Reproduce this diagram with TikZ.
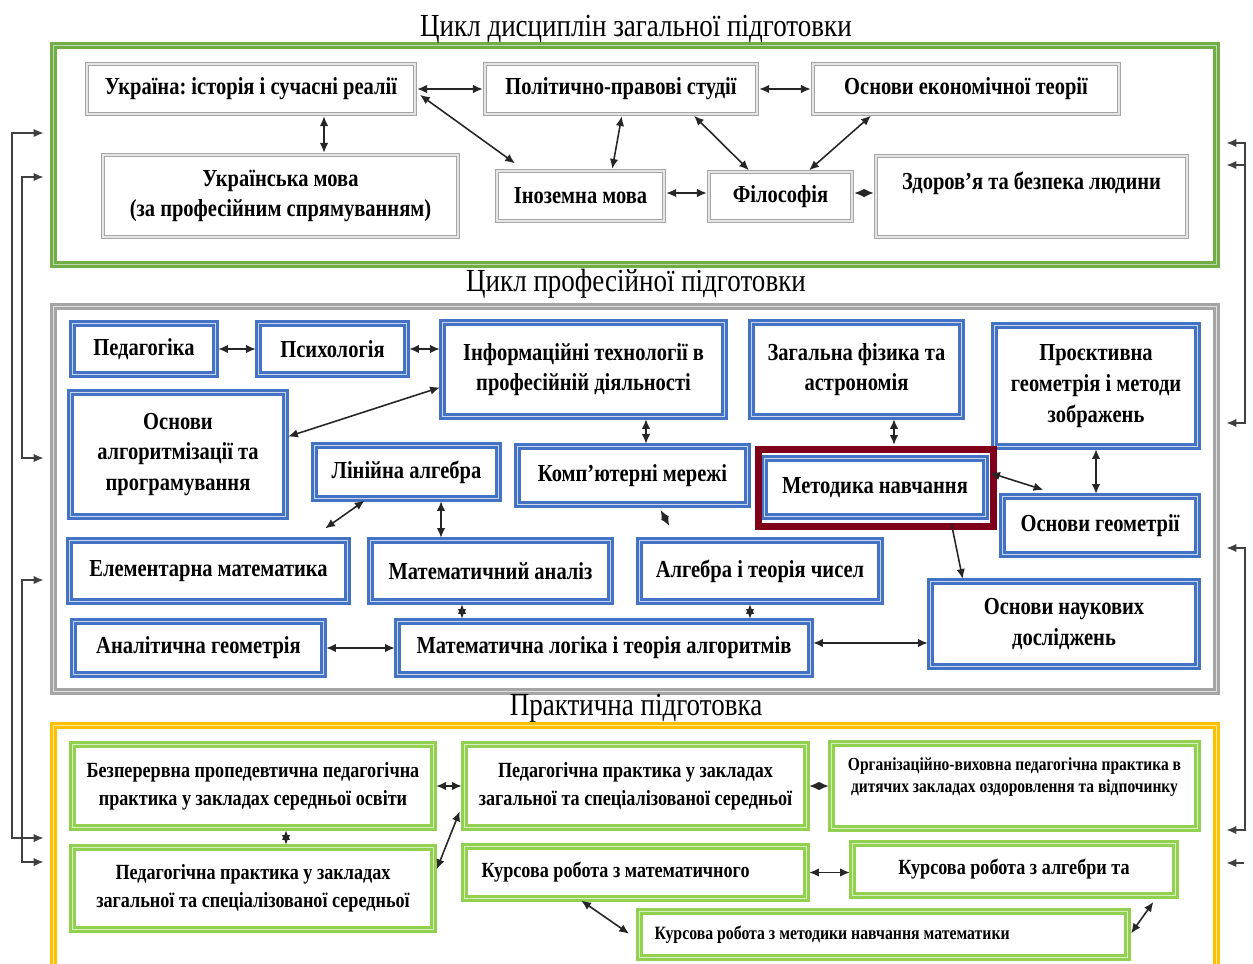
\documentclass[tikz,border=0pt]{standalone}
\usepackage{fontspec}
\setmainfont{Liberation Serif}[FakeStretch=0.84]
\frenchspacing
\usetikzlibrary{arrows.meta}
\usetikzlibrary{calc}
\definecolor{frgreen}{HTML}{70AD47}
\definecolor{frgrey}{HTML}{A5A5A5}
\definecolor{fryellow}{HTML}{FFC000}
\definecolor{bxgrey}{HTML}{A6A6A6}
\definecolor{bxblue}{HTML}{4472C4}
\definecolor{bxlime}{HTML}{92D050}
\definecolor{bxred}{HTML}{7F0019}
\tikzset{
  sz/.style n args={2}{minimum width=#1*0.02cm, minimum height=#2*0.02cm},
  discbox/.style={fill=white, inner sep=0pt, align=center,
    font=\fontsize{13.9}{17.5}\selectfont\bfseries},
  greybox/.style={discbox, draw=bxgrey, double=bxgrey!30, line width=0.9pt, double distance=0.6pt},
  bluebox/.style={discbox, draw=bxblue, double=bxblue!30, line width=1.4pt, double distance=0.9pt},
  limebox/.style={discbox, draw=bxlime, double=bxlime!35, line width=1.4pt, double distance=0.9pt,
    font=\fontsize{12.3}{16}\selectfont\bfseries},
  cycleframe/.style={inner sep=0pt, line width=1.4pt, double distance=0.9pt},
  redframe/.style={draw=bxred, line width=3.6pt, inner sep=0pt},
  cycletitle/.style={font=\fontsize{18.3}{20}\selectfont},
  con/.style={<->, line width=0.9pt, draw=black!85, shorten <=0.8pt, shorten >=0.8pt},
  rail/.style={<->, line width=0.8pt, draw=black!75, shorten <=5pt, shorten >=5pt}
}

\begin{document}
\begin{tikzpicture}[x=0.02cm, y=-0.02cm, >={Latex[length=5.6pt,width=4.8pt]}]
  \clip (0,0) rectangle (1253,963);

  % Three cycles
  \node[cycleframe, draw=frgreen, double=frgreen!45, sz={1163}{219}] (gen) at (635,155) {};
  \node[cycleframe, draw=frgrey, double=frgrey!35, sz={1163}{385}] (prof) at (635,499) {};
  \node[cycleframe, draw=fryellow, double=fryellow!35, sz={1163}{265}] (prac) at (635,858) {};
  \node[cycletitle] (t1) at (636,29) {Цикл дисциплін загальної підготовки};
  \node[cycletitle] (t2) at (636,284) {Цикл професійної підготовки};
  \node[cycletitle] (t3) at (636,708) {Практична підготовка};

  % General training
  \node[greybox, sz={328}{50}] (ukr) at (251,89) {Україна: історія і сучасні реалії};
  \node[greybox, sz={272}{50}] (polit) at (621,89) {Політично-правові студії};
  \node[greybox, sz={306}{50}] (econ) at (966,89) {Основи економічної теорії};
  \node[greybox, sz={355}{82}] (mova) at (280.5,196) {Українська мова\\(за професійним спрямуванням)};
  \node[greybox, sz={167}{50}] (inoz) at (580.5,196) {Іноземна мова};
  \node[greybox, sz={143}{49}] (filos) at (780.5,196.5) {Філософія};
  \node[greybox, sz={311}{81}] (zdorov) at (1031.5,196.5) {Здоров’я та безпека людини\\~};

  \draw[con] (ukr.east) -- (polit.west);
  \draw[con] (polit.east) -- (econ.west);
  \draw[con] ($(ukr.south)+(73,0)$) -- ($(mova.north)+(43.5,0)$);
  \draw[con] ($(ukr.east)+(3,5)$) -- ($(inoz.north west)+(20,-6)$);
  \draw[con] ($(polit.south)+(1,0)$) -- ($(inoz.north)+(31.5,0)$);
  \draw[con] ($(polit.south)+(72,0)$) -- ($(filos.north)+(-30.5,0)$);
  \draw[con] ($(econ.south)+(-94,0)$) -- ($(filos.north)+(27.5,0)$);
  \draw[con] ($(inoz.east)+(0,-3)$) -- ($(filos.west)+(0,-3.5)$);
  \draw[con] ($(filos.east)+(0,-3.5)$) -- ($(zdorov.west)+(0,-3.5)$);

  % Professional training
  \node[bluebox, sz={143}{51}] (ped) at (144,349) {Педагогіка};
  \node[bluebox, sz={148}{51}] (psych) at (332.5,349) {Психологія};
  \node[bluebox, sz={282}{94}] (info) at (583.5,369.5) {Інформаційні технології в\\професійній діяльності};
  \node[bluebox, sz={210}{94}] (fiz) at (856.5,369.5) {Загальна фізика та\\астрономія};
  \node[bluebox, sz={203}{121}] (proekt) at (1096,386) {Проєктивна\\геометрія і методи\\зображень};
  \node[bluebox, sz={215}{124}] (algprog) at (178,454.5) {Основи\\алгоритмізації та\\програмування};
  \node[bluebox, sz={184}{53}] (lin) at (406.5,472) {Лінійна алгебра};
  \node[bluebox, sz={230}{58}] (komp) at (632.5,475.5) {Комп'ютерні мережі};
  \node[bluebox, sz={221}{58}] (method) at (875,487.5) {Методика навчання};
  \node[redframe, sz={235}{77}] (mframe) at (876,488) {};
  \node[bluebox, sz={195}{58}] (geom) at (1100,525.5) {Основи геометрії};
  \node[bluebox, sz={278}{61}] (elem) at (208.5,571) {Елементарна математика};
  \node[bluebox, sz={240}{61}] (analiz) at (490.5,571) {Математичний аналіз};
  \node[bluebox, sz={241}{61}] (algch) at (760,571) {Алгебра і теорія чисел};
  \node[bluebox, sz={267}{85}] (nauk) at (1064,624) {Основи наукових\\досліджень};
  \node[bluebox, sz={250}{53}] (angeom) at (198.5,648) {Аналітична геометрія};
  \node[bluebox, sz={413}{53}] (logic) at (604,648) {Математична логіка і теорія алгоритмів};

  \draw[con] (ped.east) -- (psych.west);
  \draw[con] (psych.east) -- (psych.east -| info.west);
  \draw[con] ($(info.west)+(0,17.5)$) -- ($(algprog.east)+(0,-17.5)$);
  \draw[con] ($(info.south)+(62.5,0)$) -- ($(komp.north)+(13.5,0)$);
  \draw[con] ($(fiz.south)+(37.5,0)$) -- ($(mframe.north)+(18,0)$);
  \draw[con] ($(lin.south west)+(52.5,0)$) -- ($(elem.north)+(115.5,-10)$);
  \draw[con] ($(lin.south)+(34.5,0)$) -- ($(analiz.north)+(-49.5,0)$);
  \draw[con] ($(komp.south)+(27.5,3)$) -- ($(algch.north)+(-90,-12)$);
  \draw[con] ($(method.east)+(2,-15)$) -- ($(geom.north west)+(43.5,-5)$);
  \draw[con] (proekt.south) -- (geom.north -| proekt.south);
  \draw[con, ->] ($(method.south)+(76,4)$) -- ($(nauk.north)+(-101,0)$);
  \draw[con] ($(analiz.south)+(-28.5,0)$) -- ($(logic.north)+(-142,0)$);
  \draw[con] ($(algch.south)+(-10,0)$) -- ($(logic.north)+(146,0)$);
  \draw[con] (angeom.east) -- (logic.west);
  \draw[con] ($(logic.east)+(0,-5)$) -- ($(logic.east -| nauk.west)+(0,-5)$);

  % Practical training
  \node[limebox, sz={361}{83}] (bez) at (253,786) {Безперервна пропедевтична педагогічна\\практика у закладах середньої освіти};
  \node[limebox, sz={342}{83}] (pedpr1) at (635.5,786) {Педагогічна практика у закладах\\загальної та спеціалізованої середньої};
  \node[limebox, sz={366}{85}, font=\fontsize{10.5}{12.5}\selectfont\bfseries] (org) at (1014.5,786)
    {Організаційно-виховна педагогічна практика в\\дитячих закладах оздоровлення та відпочинку\\~};
  \node[limebox, sz={361}{82}] (pedpr2) at (253,888.5) {Педагогічна практика у закладах\\загальної та спеціалізованої середньої};
  \node[limebox, sz={342}{52}, text width=308*0.02cm, align=flush left] (kursmat) at (635.5,872.5) {Курсова робота з математичного};
  \node[limebox, sz={323}{52}] (kursalg) at (1014,869.5) {Курсова робота з алгебри та};
  \node[limebox, sz={488}{46}, text width=458*0.02cm, align=flush left, font=\fontsize{10.7}{12}\selectfont\bfseries] (kursmet) at (883.5,934.5)
    {Курсова робота з методики навчання математики};

  \draw[con] (bez.east) -- (pedpr1.west);
  \draw[con] (pedpr1.east) -- (org.west);
  \draw[con] ($(bez.south)+(33,0)$) -- ($(pedpr2.north)+(33,0)$);
  \draw[con] ($(pedpr2.east)+(1.5,-18)$) -- ($(pedpr1.west)+(-3,24)$);
  \draw[con] (kursmat.east) -- (kursmat.east -| kursalg.west);
  \draw[con] ($(kursmat.south)+(-55.5,0)$) -- ($(kursmet.west)+(-8,0)$);
  \draw[con] ($(kursalg.south east)+(-22.5,4)$) -- ($(kursmet.east)+(1.5,0)$);

  % Links between the cycles
  \coordinate (la1) at (12,133);
  \coordinate (la2) at (12,838);
  \coordinate (lb1) at (22,177);
  \coordinate (lb2) at (22,458);
  \coordinate (lb3) at (22,580);
  \coordinate (lb4) at (22,862);
  \coordinate (ra1) at (1245,143);
  \coordinate (ra2) at (1245,423);
  \coordinate (ra3) at (1245,548);
  \coordinate (ra4) at (1245,830);
  \coordinate (re1) at (1253,165);
  \coordinate (re2) at (1253,863);
  \draw[rail] (gen.west |- la1) -- (la1) -- (la2) -- (prac.west |- la2);
  \draw[rail] (gen.west |- lb1) -- (lb1) -- (lb2) -- (prof.west |- lb2);
  \draw[rail] (prof.west |- lb3) -- (lb3) -- (lb4) -- (prac.west |- lb4);
  \draw[rail] (gen.east |- ra1) -- (ra1) -- (ra2) -- (prof.east |- ra2);
  \draw[rail] (prof.east |- ra3) -- (ra3) -- (ra4) -- (prac.east |- ra4);
  \draw[rail, ->] (re1) -- (gen.east |- re1);
  \draw[rail, ->] (re2) -- (prac.east |- re2);
\end{tikzpicture}
\end{document}
